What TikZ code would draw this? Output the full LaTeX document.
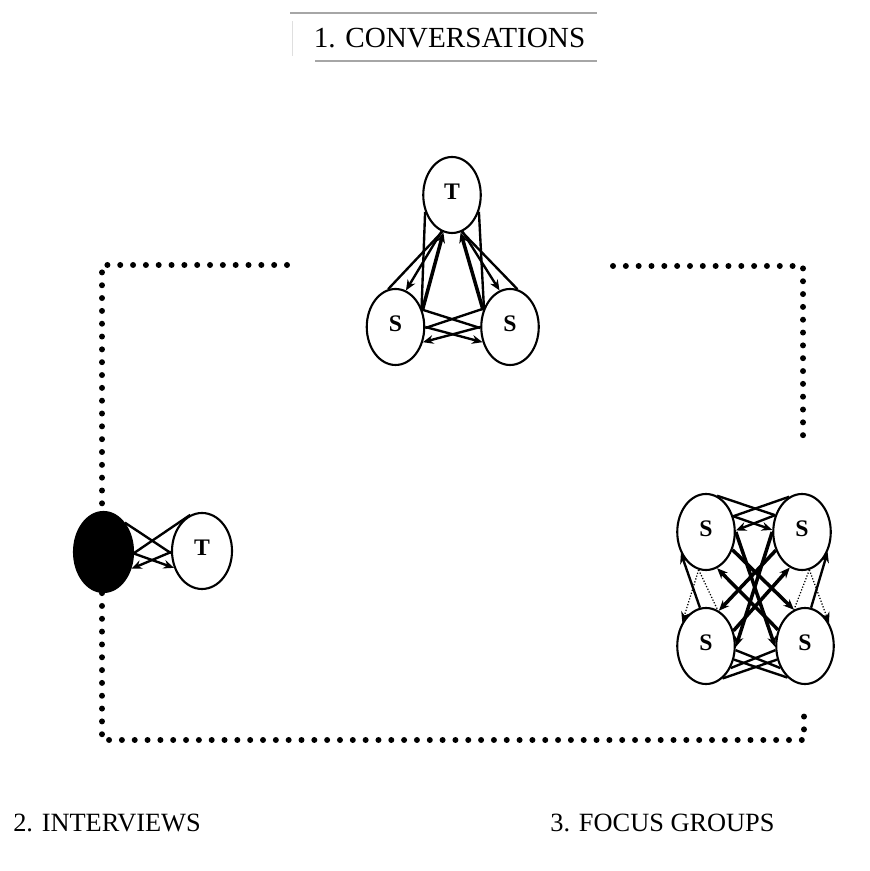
\documentclass[tikz,border=0pt]{standalone}
\usepackage{fontspec}
\setmainfont{Liberation Serif}
\usetikzlibrary{shapes.geometric,arrows.meta}

\begin{document}
\begin{tikzpicture}[
        >={Stealth[length=6pt,width=5pt]},
        role/.style={ellipse, draw, line width=1.2pt, fill=white, minimum width=1.15cm, minimum height=1.52cm, inner sep=0pt, text depth=0.15cm, font=\fontsize{13.5}{15}\selectfont\bfseries},
        link/.style={line width=1.35pt},
        heavy/.style={line width=2pt},
        faint/.style={line width=0.7pt, densely dotted},
        frame/.style={line width=3.4pt, line cap=round, dash pattern=on 0pt off 7.3pt},
        heading/.style={font=\fontsize{16.6}{20}\selectfont}
    ]
        \useasboundingbox (0,0) rectangle (17.38,17.42);

        % Title box
        \draw[gray!70, line width=0.6pt] (5.8,17.16) -- (11.94,17.16);
        \draw[gray!70, line width=0.6pt] (6.3,16.2) -- (11.94,16.2);
        \draw[gray!25, line width=0.4pt] (5.84,16.3) -- (5.84,17.0);
        \node[heading] (conv) at (8.99,16.66) {1. CONVERSATIONS};

        % Dotted frame
        \draw[frame] (5.74,12.12) -- (2.04,12.12) -- (2.04,2.62) -- (16.08,2.62) -- (16.08,3.12);
        \draw[frame] (12.26,12.1) -- (16.06,12.1) -- (16.06,8.58);

        % Conversations: teacher and two students
        \node[role] (convT) at (9.04,13.52) {T};
        \node[role] (convSa) at (7.91,10.88) {S};
        \node[role] (convSb) at (10.2,10.88) {S};

        \draw[link] (convT.212) -- (convSa.36);
        \draw[heavy,->] (convSa.32) -- (convT.257);
        \draw[link] (convSa.101) -- (convT.255);
        \draw[link,->] (convT.254) -- (convSa.74);
        \draw[link] (convT.328) -- (convSb.144);
        \draw[heavy,->] (convSb.148) -- (convT.283);
        \draw[link] (convSb.79) -- (convT.285);
        \draw[link,->] (convT.286) -- (convSb.106);
        \draw[link] (convSa.33) -- (convSb.182);
        \draw[link] (convSb.145) -- (convSa.358);
        \draw[link,->] (convSa.0) -- (convSb.209);
        \draw[link,->] (convSb.180) -- (convSa.331);

        % Interviews: one student (black) and teacher
        \node[role, fill=black, minimum width=1.18cm, minimum height=1.6cm] (intS) at (2.07,6.38) {};
        \node[role, minimum width=1.2cm] (intT) at (4.04,6.4) {T};

        \draw[link] (intS.54) -- (intT.184);
        \draw[link] (intT.108) -- (intS.358);
        \draw[link,->] (intS.357) -- (intT.211);
        \draw[link,->] (intT.182) -- (intS.329);

        % Focus groups: four students
        \node[role] (fgSa) at (14.12,6.78) {S};
        \node[role] (fgSb) at (16.04,6.78) {S};
        \node[role] (fgSc) at (14.12,4.5) {S};
        \node[role] (fgSd) at (16.1,4.5) {S};

        % top and bottom pairs
        \draw[link] (fgSa.73) -- (fgSb.148);
        \draw[link] (fgSb.110) -- (fgSa.30);
        \draw[link,->] (fgSa.30) -- (fgSb.176);
        \draw[link,->] (fgSb.148) -- (fgSa.3);
        \draw[link] (fgSc.297) -- (fgSd.206);
        \draw[link] (fgSd.241) -- (fgSc.334);
        \draw[link] (fgSc.352) -- (fgSd.222);
        \draw[link] (fgSd.188) -- (fgSc.318);

        % diagonals
        \draw[heavy,->] (fgSa.0) -- (fgSd.182);
        \draw[heavy,->] (fgSb.180) -- (fgSc.358);
        \draw[heavy,->] (fgSd.149) -- (fgSa.287);
        \draw[heavy,->] (fgSc.29) -- (fgSb.251);
        \draw[heavy,->] (fgSa.326) -- (fgSd.107);
        \draw[heavy,->] (fgSb.215) -- (fgSc.70);

        % sides
        \draw[link,->] (fgSc.99) -- (fgSa.220);
        \draw[faint,->] (fgSa.259) -- (fgSc.135);
        \draw[faint] (fgSa.259) -- (fgSc.72);
        \draw[link,->] (fgSd.81) -- (fgSb.322);
        \draw[faint,->] (fgSb.281) -- (fgSd.44);
        \draw[faint] (fgSb.281) -- (fgSd.107);

        % Labels
        \node[font=\fontsize{15}{18}\selectfont] (intlabel) at (2.14,0.96) {2. INTERVIEWS};
        \node[font=\fontsize{15}{18}\selectfont] (fglabel) at (13.25,0.96) {3. FOCUS GROUPS};

    \end{tikzpicture}
\end{document}
